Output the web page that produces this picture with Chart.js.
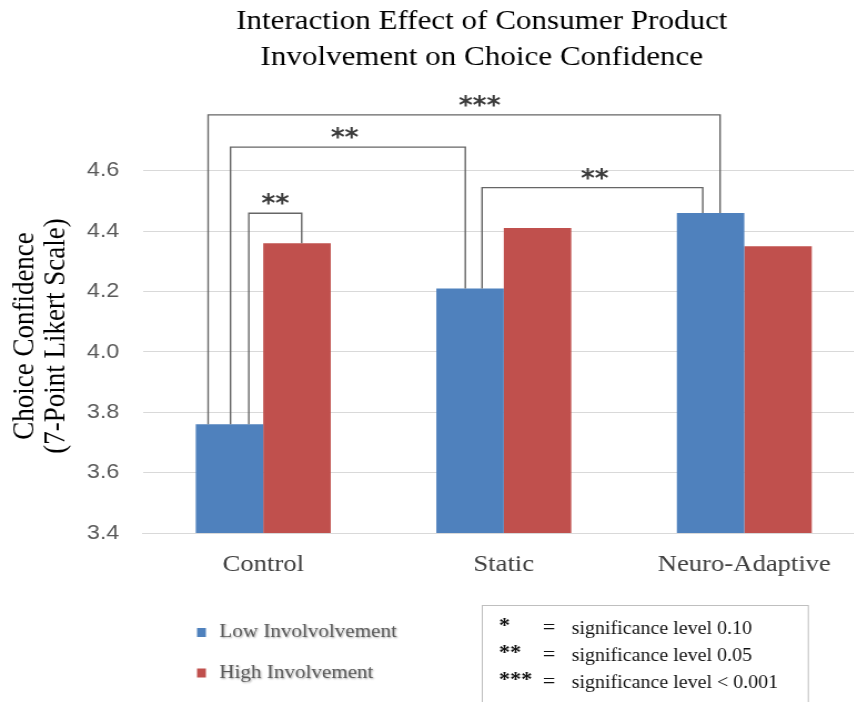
<!DOCTYPE html>
<html>
<head>
<meta charset="utf-8">
<title>Interaction Effect of Consumer Product Involvement on Choice Confidence</title>
<script src="https://cdn.jsdelivr.net/npm/chart.js@4.4.1/dist/chart.umd.min.js"></script>
<style>
  html, body { margin: 0; padding: 0; background: #ffffff; overflow: hidden; width: 854px; height: 702px; }
  /* the figure is drawn slightly wide: stretch it horizontally */
  #wrap { position: absolute; left: 0; top: 0; width: 868px; height: 702px; transform: scaleX(1.11); transform-origin: 0 0; }
  canvas { display: block; }
</style>
</head>
<body>
<div id="wrap"><canvas id="chart" width="868" height="702"></canvas></div>
<script>
// ---- data ----
const categories = ['Control', 'Static', 'Neuro-Adaptive'];
const seriesNames = ['Low Involvolvement', 'High Involvement'];
const lowInvolvement = [3.76, 4.21, 4.46];
const highInvolvement = [4.36, 4.41, 4.35];
const yTicks = [3.4, 3.6, 3.8, 4.0, 4.2, 4.4, 4.6];
const titleLines = ['Interaction Effect of Consumer Product', 'Involvement on Choice Confidence'];
const yTitleLines = ['Choice Confidence', '(7-Point Likert Scale)'];

// pairwise comparisons: [series index, category index] at each end
const sigFrom = [[0, 0], [0, 0], [0, 0], [0, 1]];
const sigTo = [[0, 2], [0, 1], [1, 0], [0, 2]];
const sigHeights = [4.785, 4.678, 4.459, 4.544];   // bracket height on the value axis
const sigMarks = ['***', '**', '**', '**'];
const keyMarks = ['*', '**', '***'];
const keyTexts = ['significance level 0.10', 'significance level 0.05', 'significance level < 0.001'];

// ---- layout ----
const colors = ['#4f81bd', '#c0504d'];
const serif = '"Liberation Serif", "Times New Roman", serif';
const sans = '"Liberation Sans", Arial, sans-serif';
// where each bracket leg meets its bar, as a fraction of bar width from the bar centre
const legShift = [[-0.317, 0.141], [0.015, -0.07], [0.286, 0.07], [0.178, -0.116]];
// horizontal nudge of each bracket's marker from the bracket centre
const markShift = [14, -3, 0, 2];

function glyphCentered(ctx, text, x, y) {
  const m = ctx.measureText(text);
  ctx.textBaseline = 'alphabetic';
  ctx.fillText(text, x, y + (m.actualBoundingBoxAscent - m.actualBoundingBoxDescent) / 2);
}

const headline = {
  id: 'headline',
  afterDraw(chart) {
    const ctx = chart.ctx;
    const lineY = [22, 58];
    ctx.save();
    ctx.fillStyle = '#000000';
    ctx.font = '28px ' + serif;
    ctx.textAlign = 'center';
    ctx.textBaseline = 'middle';
    titleLines.forEach((t, i) => ctx.fillText(t, 434, lineY[i]));
    ctx.restore();
  }
};

const brackets = {
  id: 'brackets',
  afterDatasetsDraw(chart) {
    const ctx = chart.ctx;
    const ys = chart.scales.y;
    ctx.save();
    ctx.strokeStyle = '#666666';
    ctx.lineWidth = 1.4;
    ctx.fillStyle = '#3c3c3c';
    ctx.font = 'bold 24px "DejaVu Sans", sans-serif';
    ctx.textAlign = 'center';
    sigFrom.forEach((f, i) => {
      const a = chart.getDatasetMeta(f[0]).data[f[1]];
      const b = chart.getDatasetMeta(sigTo[i][0]).data[sigTo[i][1]];
      const xa = a.x + legShift[i][0] * a.width;
      const xb = b.x + legShift[i][1] * b.width;
      const top = ys.getPixelForValue(sigHeights[i]);
      ctx.beginPath();
      ctx.moveTo(xa, a.y);
      ctx.lineTo(xa, top);
      ctx.lineTo(xb, top);
      ctx.lineTo(xb, b.y);
      ctx.stroke();
      glyphCentered(ctx, sigMarks[i], (xa + xb) / 2 + markShift[i], top - 14);
    });
    ctx.restore();
  }
};

const sideTitle = {
  id: 'sideTitle',
  afterDraw(chart) {
    const ctx = chart.ctx;
    const lineX = [22.5, 51.4];
    const cy = 336;
    ctx.save();
    ctx.fillStyle = '#000000';
    ctx.font = '27px ' + serif;
    ctx.textAlign = 'center';
    ctx.textBaseline = 'middle';
    yTitleLines.forEach((t, i) => {
      ctx.save();
      ctx.translate(lineX[i], cy);
      ctx.rotate(-Math.PI / 2);
      ctx.fillText(t, 0, 0);
      ctx.restore();
    });
    ctx.restore();
  }
};

const seriesKey = {
  id: 'seriesKey',
  afterDraw(chart) {
    const ctx = chart.ctx;
    const rowY = [632.5, 673];
    ctx.save();
    chart.data.datasets.forEach((ds, i) => {
      ctx.fillStyle = ds.backgroundColor;
      ctx.fillRect(177.5, rowY[i] - 4.5, 8, 9);
      ctx.save();
      ctx.shadowColor = 'rgba(0,0,0,0.35)';
      ctx.shadowBlur = 2;
      ctx.shadowOffsetX = 1;
      ctx.shadowOffsetY = 1;
      ctx.fillStyle = '#595959';
      ctx.font = '19px ' + serif;
      ctx.textAlign = 'left';
      ctx.textBaseline = 'middle';
      ctx.fillText(ds.label, 197.6, rowY[i]);
      ctx.restore();
    });
    ctx.restore();
  }
};

const sigKey = {
  id: 'sigKey',
  afterDraw(chart) {
    const ctx = chart.ctx;
    const rowY = [629, 656, 683];
    ctx.save();
    ctx.strokeStyle = '#bfbfbf';
    ctx.lineWidth = 1;
    ctx.strokeRect(434.5, 605.5, 293.7, 110);
    ctx.fillStyle = '#111111';
    ctx.textBaseline = 'middle';
    keyMarks.forEach((m, i) => {
      ctx.font = 'bold 20px ' + serif;
      ctx.textAlign = 'left';
      ctx.fillText(m, 449.5, rowY[i] - 2);
      ctx.font = '20px ' + serif;
      ctx.textAlign = 'center';
      ctx.fillText('=', 494.6, rowY[i]);
      ctx.font = '18px ' + serif;
      ctx.textAlign = 'left';
      ctx.fillText(keyTexts[i], 515, rowY[i]);
    });
    ctx.restore();
  }
};

new Chart(document.getElementById('chart'), {
  type: 'bar',
  data: {
    labels: categories,
    datasets: [
      { label: seriesNames[0], data: lowInvolvement, backgroundColor: colors[0] },
      { label: seriesNames[1], data: highInvolvement, backgroundColor: colors[1] }
    ]
  },
  options: {
    responsive: false,
    animation: false,
    devicePixelRatio: 1,
    layout: { padding: { left: 0, right: 89.1, top: 170.7, bottom: 0 } },
    datasets: { bar: { categoryPercentage: 0.561, barPercentage: 1 } },
    plugins: {
      legend: { display: false },
      tooltip: { enabled: false },
      title: { display: false }
    },
    scales: {
      x: {
        grid: { display: false, drawTicks: false },
        border: { display: true, color: '#d9d9d9' },
        ticks: { color: '#404040', font: { family: serif, size: 24 }, padding: 17.6 },
        afterFit(s) { s.height = 169; }
      },
      y: {
        min: 3.4,
        max: 4.6,
        afterBuildTicks(s) { s.ticks = yTicks.map(v => ({ value: v })); },
        ticks: { color: '#595959', font: { family: sans, size: 21 }, padding: 21.3, callback: v => Number(v).toFixed(1) },
        grid: { color: '#d9d9d9', lineWidth: 1, drawTicks: false },
        border: { display: false },
        afterFit(s) { s.width = 128.8; }
      }
    }
  },
  plugins: [headline, brackets, sideTitle, seriesKey, sigKey]
});
</script>
</body>
</html>
